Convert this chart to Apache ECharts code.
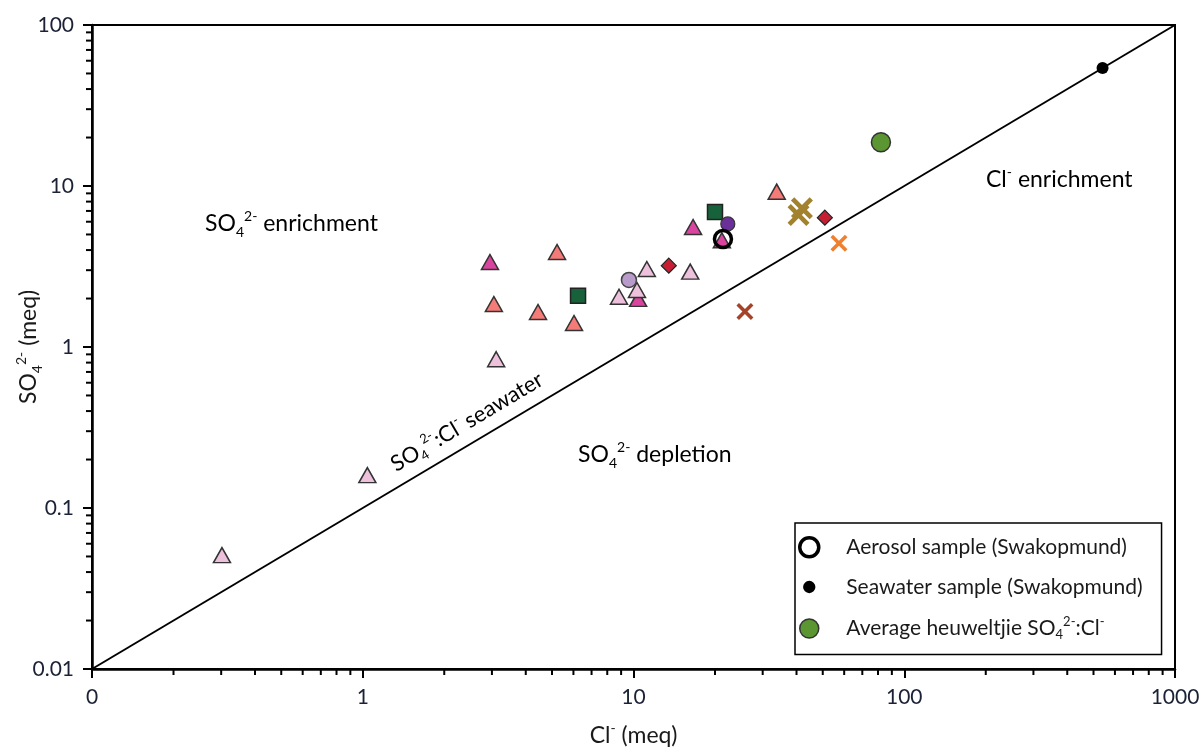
<!DOCTYPE html>
<html><head><meta charset="utf-8">
<script src="https://cdn.jsdelivr.net/npm/echarts@6/dist/echarts.min.js"></script>
<style>html,body{margin:0;padding:0;background:#fff}#c{width:1204px;height:747px}</style>
</head><body><div id="c"></div>
<script>
// ---- data (Cl- meq, SO4 2- meq) ----
const lightPinkTri = [[0.302,0.051],[1.04,0.160],[3.11,0.84],[8.84,2.05],[10.3,2.26],[11.2,3.05],[16.2,2.94]];
const magentaTri = [[2.95,3.37],[10.4,1.99],[16.6,5.56],[21.2,4.6]];
const salmonTri = [[3.05,1.85],[5.22,3.89],[4.44,1.65],[6.03,1.41],[33.8,9.22]];
const greenSquares = [[6.24,2.08],[20.0,6.9]];
const lightPurpleCircle = [[9.62,2.61]];
const darkPurpleCircle = [[22.3,5.81]];
const redDiamonds = [[13.5,3.20],[50.9,6.36]];
const brownX = [[25.8,1.66]];
const goldX = [[40.7,6.6],[41.9,7.27]];
const orangeX = [[57.4,4.41]];
const aerosol = [[21.4,4.69]];
const seawater = [[540,54]];
const heuweltjieAvg = [[82.0,18.7]];
const seawaterLine = [[0.1,0.01],[1000,100]];
const xTickLabels = {0.1:'0', 1:'1', 10:'10', 100:'100', 1000:'1000'};
const yTickLabels = {0.01:'0.01', 0.1:'0.1', 1:'1', 10:'10', 100:'100'};
const xDecades = [0.1, 1, 10, 100];
const yDecades = [0.01, 0.1, 1, 10];
const minorMultipliers = [2,3,4,5,6,7,8,9];

const minorX = [], minorY = [];
xDecades.forEach(d => minorMultipliers.forEach(m => minorX.push([m*d, 0.01])));
yDecades.forEach(d => minorMultipliers.forEach(m => minorY.push([0.1, m*d])));

const FONT = 'Lato';
const TXT = '#1a1a1a';
function mkRich(fs, lh, ss) {
  return {
    a: {fontSize: fs, fontFamily: FONT, color: TXT, lineHeight: lh, verticalAlign: 'middle'},
    f: {fontSize: fs, fontFamily: FONT, color: TXT, lineHeight: lh, verticalAlign: 'middle', padding:[0,0,0,12]},
    sub: {fontSize: ss, fontFamily: FONT, color: TXT, lineHeight: ss, verticalAlign: 'bottom'},
    sup: {fontSize: ss, fontFamily: FONT, color: TXT, lineHeight: ss, verticalAlign: 'top'}
  };
}
const rich = mkRich(23, 30, 14);
const richS = mkRich(22, 28, 13);
const richL = mkRich(21, 26, 13);
const XPATH = 'path://M3,0 L10,7 L17,0 L20,3 L13,10 L20,17 L17,20 L10,13 L3,20 L0,17 L7,10 L0,3 Z';
const near = (v, t) => Math.abs(v - t) < 1e-9 * Math.max(1, t);
function lookup(map, v) {
  for (const k in map) if (near(v, +k)) return map[k];
  return '';
}
function tri(name, data, color) {
  return {name, type:'scatter', data, symbol:'triangle', symbolSize:[17,15], z:3,
    itemStyle:{color, borderColor:'#333', borderWidth:1.5, opacity:1}};
}
function cross(name, data, color, size) {
  return {name, type:'scatter', data, symbol:XPATH, symbolSize:size, z:3, itemStyle:{color, opacity:1}};
}
const tickSeries = (data, dir) => ({
  type:'custom', data, silent:true, clip:false, z:10,
  renderItem: (params, api) => {
    const p = api.coord([api.value(0), api.value(1)]);
    const shape = dir === 'x' ? {x1:p[0], y1:p[1], x2:p[0], y2:p[1]+6} : {x1:p[0]-6, y1:p[1], x2:p[0], y2:p[1]};
    return {type:'line', shape, style:{stroke:'#000', lineWidth:2}};
  }
});

const chart = echarts.init(document.getElementById('c'));
chart.setOption({
  animation:false,
  backgroundColor:'#fff',
  grid:{left:92, right:29, top:25, bottom:78, containLabel:false, outerBoundsMode:'none',
    show:true, borderColor:'#000', borderWidth:2},
  xAxis:{type:'log', logBase:10, min:0.1, max:1000,
    name:'{a|Cl}{sup|-}{a| (meq)}', nameLocation:'middle', nameGap:52, nameTextStyle:{rich},
    nameMoveOverlap:false,
    axisLine:{show:true, lineStyle:{color:'#000', width:2.5}},
    axisTick:{show:true, length:9, lineStyle:{color:'#000', width:2}},
    axisLabel:{formatter:v=>lookup(xTickLabels,v), fontSize:21, fontFamily:FONT, color:'#1c2236', margin:18},
    splitLine:{show:false}, minorTick:{show:false}},
  yAxis:{type:'log', logBase:10, min:0.01, max:100,
    name:'{a|SO}{sub|4}{sup|2-}{a| (meq)}', nameLocation:'middle', nameGap:48, nameRotate:90, nameTextStyle:{rich},
    nameMoveOverlap:false,
    axisLine:{show:true, lineStyle:{color:'#000', width:2.5}},
    axisTick:{show:true, length:9, lineStyle:{color:'#000', width:2}},
    axisLabel:{formatter:v=>lookup(yTickLabels,v), fontSize:21, fontFamily:FONT, color:'#1c2236', margin:18},
    splitLine:{show:false}, minorTick:{show:false}},
  legend:{
    left:795, top:523, orient:'vertical', itemGap:18, itemWidth:40, itemHeight:19,
    padding:[13,19,13,3], borderColor:'#000', borderWidth:1.5, backgroundColor:'#fff',
    data:[
      {name:'Aerosol sample (Swakopmund)', icon:'circle', itemStyle:{color:'#fff', borderColor:'#000', borderWidth:3.5}},
      {name:'Seawater sample (Swakopmund)', icon:'path://M0,0 M20,20 M3.5,10 A6.5,6.5 0 1,1 16.5,10 A6.5,6.5 0 1,1 3.5,10 Z', itemStyle:{color:'#000', borderWidth:0}},
      {name:'Average heuweltjie', icon:'circle', itemStyle:{color:'#5b9632', borderColor:'#333', borderWidth:1.5}}
    ],
    formatter: n => n === 'Average heuweltjie' ? '{f|Average heuweltjie SO}{sub|4}{sup|2-}{a|:Cl}{sup|-}' : '{f|' + n + '}',
    textStyle:{rich:richL}
  },
  graphic:[
    {type:'text', x:205, y:224, style:{text:'{a|SO}{sub|4}{sup|2-}{a| enrichment}', rich, verticalAlign:'middle'}},
    {type:'text', x:986, y:180, style:{text:'{a|Cl}{sup|-}{a| enrichment}', rich, verticalAlign:'middle'}},
    {type:'text', x:578, y:455, style:{text:'{a|SO}{sub|4}{sup|2-}{a| depletion}', rich, verticalAlign:'middle'}},
    {type:'text', x:467, y:422, rotation:30.7*Math.PI/180,
      style:{text:'{a|SO}{sub|4}{sup|2-}{a|:Cl}{sup|-}{a| seawater}', rich:richS, align:'center', verticalAlign:'middle'}}
  ],
  series:[
    {name:'seawater line', type:'line', data:seawaterLine, symbol:'none', z:1, lineStyle:{color:'#000', width:2}},
    tickSeries(minorX, 'x'),
    tickSeries(minorY, 'y'),
    tri('magenta', magentaTri, '#d9449f'),
    tri('lightpink', lightPinkTri, '#edc1dc'),
    tri('salmon', salmonTri, '#f47b78'),
    {name:'green squares', type:'scatter', data:greenSquares, symbol:'rect', symbolSize:15, z:3, itemStyle:{color:'#17623a', borderColor:'#222', borderWidth:1.5, opacity:1}},
    {name:'light purple', type:'scatter', data:lightPurpleCircle, symbol:'circle', symbolSize:15, z:3, itemStyle:{color:'#b89bcb', borderColor:'#444', borderWidth:1.5, opacity:1}},
    {name:'dark purple', type:'scatter', data:darkPurpleCircle, symbol:'circle', symbolSize:14, z:3, itemStyle:{color:'#6b2f9a', borderColor:'#333', borderWidth:1.2, opacity:1}},
    {name:'red diamonds', type:'scatter', data:redDiamonds, symbol:'diamond', symbolSize:15, z:3, itemStyle:{color:'#c81e34', borderColor:'#222', borderWidth:1.2, opacity:1}},
    cross('brown x', brownX, '#a5432a', 17),
    cross('gold x', goldX, '#a2812f', 22),
    cross('orange x', orangeX, '#f0802f', 17),
    {name:'Aerosol sample (Swakopmund)', type:'scatter', data:aerosol, symbol:'circle', symbolSize:17, z:5, itemStyle:{color:'rgba(255,255,255,0)', borderColor:'#000', borderWidth:3.5, opacity:1}},
    {name:'Seawater sample (Swakopmund)', type:'scatter', data:seawater, symbol:'circle', symbolSize:12, z:4, itemStyle:{color:'#000', opacity:1}},
    {name:'Average heuweltjie', type:'scatter', data:heuweltjieAvg, symbol:'circle', symbolSize:19, z:4, itemStyle:{color:'#5b9632', borderColor:'#333', borderWidth:1.5, opacity:1}}
  ]
});
</script></body></html>
